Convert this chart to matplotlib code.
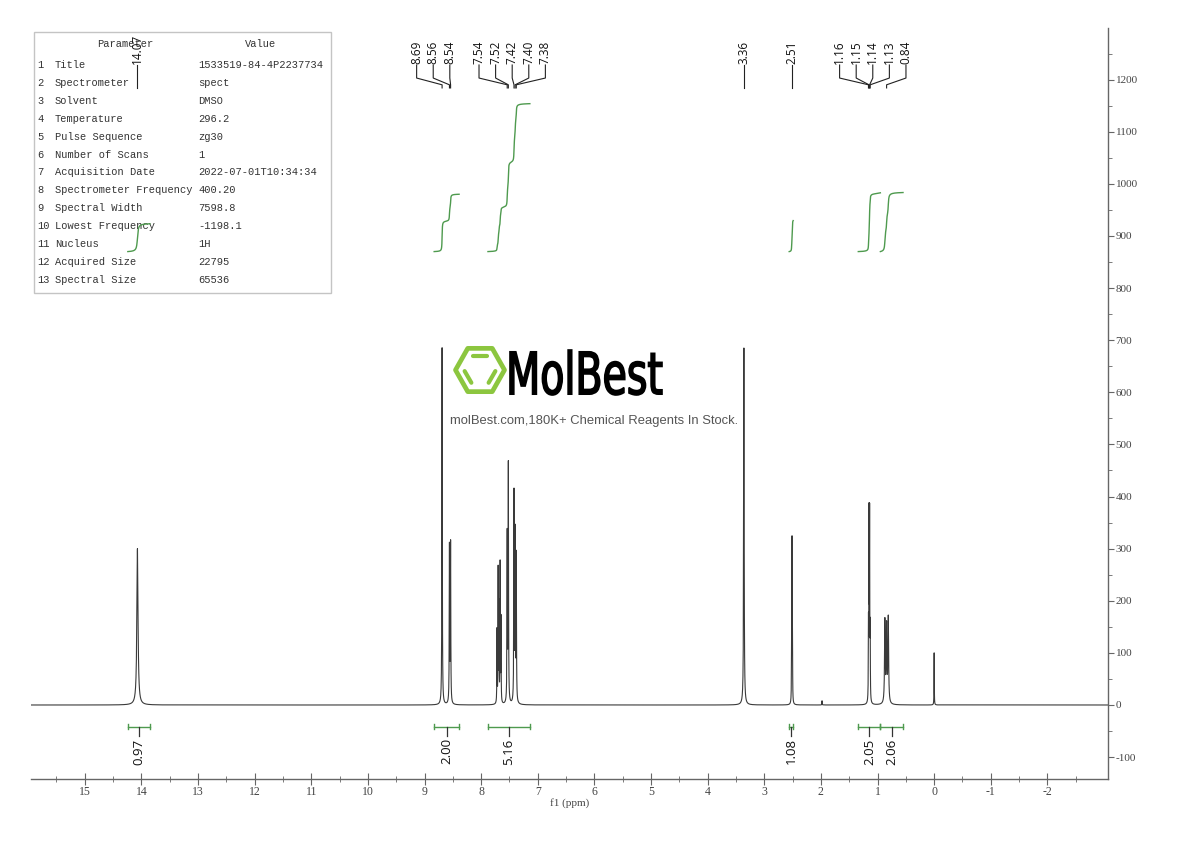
import numpy as np
import matplotlib
matplotlib.use("Agg")
import matplotlib.pyplot as plt
from matplotlib.patches import Rectangle, PathPatch, Polygon
from matplotlib.textpath import TextPath
from matplotlib.font_manager import FontProperties
from matplotlib.transforms import Affine2D
from matplotlib.ticker import FixedLocator, MultipleLocator

plt.rcParams['axes.unicode_minus'] = False

# --- spectrum lines: shift (ppm), apex height, half width (ppm)
peak_ppm = [14.07, 8.69, 8.56, 8.54,
            7.72, 7.70, 7.685, 7.665, 7.65, 7.54, 7.52, 7.42, 7.40, 7.38,
            3.36, 2.519, 2.5145, 2.51, 2.5055, 2.501, 1.98,
            1.16, 1.15, 1.14, 1.13, 0.87, 0.84, 0.81, 0.00]
peak_height = [300, 685, 300, 305,
               140, 255, 185, 265, 160, 320, 455, 400, 320, 280,
               685, 60, 140, 250, 140, 60, 8,
               140, 345, 345, 130, 158, 145, 163, 100]
peak_width = [0.012, 0.004, 0.004, 0.004,
              0.003, 0.003, 0.003, 0.003, 0.003, 0.004, 0.004, 0.004, 0.004, 0.004,
              0.005, 0.0025, 0.0025, 0.0025, 0.0025, 0.0025, 0.003,
              0.003, 0.003, 0.003, 0.003, 0.007, 0.007, 0.007, 0.0025]

# --- integrals: region start/end (ppm) and value
int_hi = [14.24, 8.83, 7.88, 2.56, 1.34, 0.95]
int_lo = [13.85, 8.39, 7.14, 2.49, 0.95, 0.55]
int_val = [0.97, 2.00, 5.16, 1.08, 2.05, 2.06]

# --- peak labels (groups)
label_groups = [[14.07], [8.69, 8.56, 8.54], [7.54, 7.52, 7.42, 7.40, 7.38],
                [3.36], [2.51], [1.16, 1.15, 1.14, 1.13, 0.84]]
label_shift = [0, 0.25, 0, 0, 0, 0]

# --- axis ticks
x_ticks = list(range(-2, 16))
y_ticks = list(range(-100, 1300, 100))

# --- parameter table
table_params = ["Title", "Spectrometer", "Solvent", "Temperature", "Pulse Sequence",
                "Number of Scans", "Acquisition Date", "Spectrometer Frequency",
                "Spectral Width", "Lowest Frequency", "Nucleus", "Acquired Size",
                "Spectral Size"]
table_values = ["1533519-84-4P2237734", "spect", "DMSO", "296.2", "zg30", "1",
                "2022-07-01T10:34:34", "400.20", "7598.8", "-1198.1", "1H",
                "22795", "65536"]

W, H = 1190, 841
fig = plt.figure(figsize=(W / 100, H / 100), dpi=100)
ax = fig.add_axes([31 / W, 1 - 779 / H, (1108 - 31) / W, (779 - 28) / H])


def fx(px):
    return px / W


def fy(py):
    return 1 - py / H


ppm = np.linspace(-3.2, 16.2, 200001)
spec = np.zeros_like(ppm)
for p, h, w in zip(peak_ppm, peak_height, peak_width):
    spec += h * w ** 2 / ((ppm - p) ** 2 + w ** 2)

ax.plot(ppm, spec, color="#3a3a3a", lw=0.8, zorder=2)

green = "#4e9a4e"
scale = 55.0
base = 870
for hi, lo, v in zip(int_hi, int_lo, int_val):
    m = (ppm <= hi) & (ppm >= lo)
    xs = ppm[m][::-1]
    ys = np.cumsum(spec[m][::-1])
    ys = base + ys / ys[-1] * v * scale
    ax.plot(xs, ys, color=green, lw=1.0, zorder=2)
    # bar below baseline
    ax.plot([hi, lo], [-42, -42], color=green, lw=1.0)
    ax.plot([hi, hi], [-47, -37], color=green, lw=1.0)
    ax.plot([lo, lo], [-47, -37], color=green, lw=1.0)
    mid = (hi + lo) / 2
    ax.plot([mid, mid], [-42, -60], color="#333333", lw=0.9)
    ax.text(mid, -64, f"{v:.2f}", rotation=90, ha="center", va="top",
            fontsize=9.5, family="Open Sans", color="#111111")

# peak labels
sp = 0.293
for grp, sh in zip(label_groups, label_shift):
    n = len(grp)
    c = np.mean(grp) + sh
    for i, p in enumerate(grp):
        lx = c + ((n - 1) / 2 - i) * sp
        ax.plot([lx, lx, p, p], [1228, 1203, 1190, 1184], color="#222222", lw=0.8)
        ax.text(lx, 1229, f"{p:.2f}", rotation=90, ha="center", va="bottom",
                fontsize=8.5, family="Open Sans", color="#111111")

ax.set_xlim(15.95, -3.07)
ax.set_ylim(-142, 1299)
ax.xaxis.set_major_locator(FixedLocator(x_ticks))
ax.xaxis.set_minor_locator(FixedLocator([t + 0.5 for t in x_ticks[:-1]] + [-2.5, 15.5]))
ax.yaxis.set_major_locator(FixedLocator(y_ticks))
ax.yaxis.set_minor_locator(MultipleLocator(50))
ax.yaxis.tick_right()
for s in ["top", "left"]:
    ax.spines[s].set_visible(False)
for s in ["bottom", "right"]:
    ax.spines[s].set_color("#666666")
    ax.spines[s].set_linewidth(1.0)
ax.tick_params(axis="x", which="major", direction="inout", length=8, color="#666666",
               labelsize=8.5, labelcolor="#444444", pad=1)
ax.tick_params(axis="x", which="minor", direction="inout", length=5, color="#666666")
ax.tick_params(axis="y", which="major", direction="out", length=4, color="#666666",
               labelsize=8, labelcolor="#444444", pad=1.5)
ax.tick_params(axis="y", which="minor", direction="out", length=3, color="#666666")
for lab in ax.get_xticklabels() + ax.get_yticklabels():
    lab.set_family("Liberation Serif")
ax.set_xlabel("f1 (ppm)", fontsize=8, family="Liberation Serif", color="#444444", labelpad=0)
ax.patch.set_alpha(0)

# parameter table (under the spectrum artists)
ax.add_patch(Rectangle((fx(34), fy(293)), fx(331) - fx(34), fy(32) - fy(293),
                       transform=fig.transFigure, facecolor="white", edgecolor="#c4c4c4",
                       lw=1.0, zorder=0.5, clip_on=False))
tkw = dict(transform=fig.transFigure, fontsize=7.5, family="Liberation Mono",
           color="#333333", va="center", zorder=0.6, clip_on=False)
ax.text(fx(125), fy(44), "Parameter", ha="center", **tkw)
ax.text(fx(261), fy(44), "Value", ha="center", **tkw)
for i, (pname, pval) in enumerate(zip(table_params, table_values)):
    y = fy(65 + i * 17.9)
    ax.text(fx(37), y, str(i + 1), ha="left", **tkw)
    ax.text(fx(55), y, pname, ha="left", **tkw)
    ax.text(fx(198), y, pval, ha="left", **tkw)

# watermark logo
lax = fig.add_axes([fx(450), fy(400), 220 / W, 60 / H], zorder=5)
lax.set_xlim(450, 670)
lax.set_ylim(400, 340)
lax.set_axis_off()
cx, cy, r = 480, 370, 24.5
ang = np.radians(np.arange(0, 360, 60))
hexv = np.column_stack([cx + r * np.cos(ang), cy - 1.02 * r * np.sin(ang)])
lax.add_patch(Polygon(hexv, closed=True, fill=False, edgecolor="#8cc63f", lw=3.4,
                      joinstyle="round"))
ri = 16
for a0, a1 in [(60, 120), (180, 240), (300, 360)]:
    p0 = np.array([cx + ri * np.cos(np.radians(a0)), cy - ri * np.sin(np.radians(a0))])
    p1 = np.array([cx + ri * np.cos(np.radians(a1)), cy - ri * np.sin(np.radians(a1))])
    q0 = p0 + 0.08 * (p1 - p0)
    q1 = p0 + 0.92 * (p1 - p0)
    lax.plot([q0[0], q1[0]], [q0[1], q1[1]], color="#8cc63f", lw=3.0,
             solid_capstyle="round")
tp = TextPath((0, 0), "MolBest", size=50, prop=FontProperties(family="DejaVu Sans"))
ext = tp.get_extents()
tr = Affine2D().translate(-ext.x0, -ext.y0).scale(152 / ext.width, -45 / ext.height).translate(510, 395)
lax.add_patch(PathPatch(tp, transform=tr + lax.transData, facecolor="black",
                        edgecolor="black", lw=1.2))

fig.text(fx(594), fy(421), "molBest.com,180K+ Chemical Reagents In Stock.", ha="center",
         va="center", fontsize=9.4, family="Liberation Sans", color="#555555", zorder=5)

fig.savefig("out.png", dpi=100, facecolor="white")
